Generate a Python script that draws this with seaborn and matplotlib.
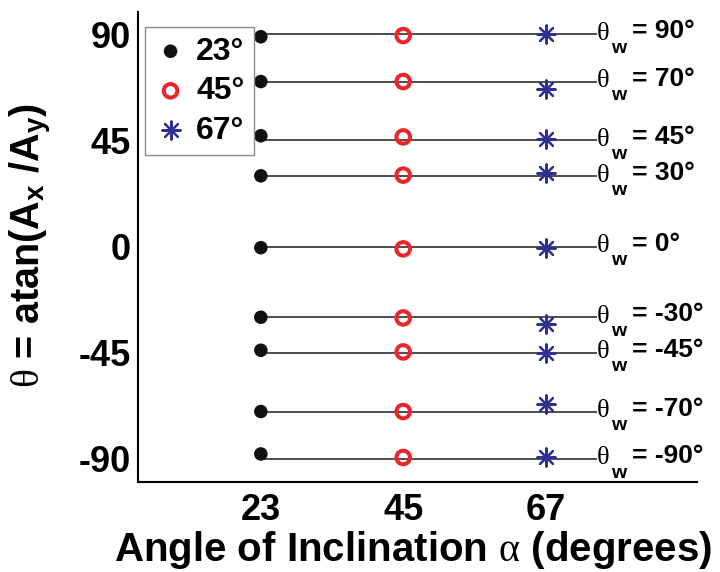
import matplotlib
matplotlib.use("Agg")
import matplotlib.pyplot as plt
import numpy as np
import pandas as pd
import seaborn as sns

# Inclination angles (degrees) and the applied wave polarisation angles
inclinations = [23, 45, 67]
theta_w = [90, 70, 45, 30, 0, -30, -45, -70, -90]

# Measured polarisation angle theta = atan(Ax/Ay) for each inclination
theta_23 = [89.0, 70.0, 47.0, 30.0, -0.5, -30.0, -44.0, -70.0, -88.0]
theta_45 = [89.5, 70.0, 46.5, 30.3, -1.0, -30.3, -44.7, -70.0, -89.5]
theta_67 = [90.0, 66.7, 45.8, 31.2, -0.5, -32.7, -45.0, -66.6, -89.2]

y_ticks = [-90, -45, 0, 45, 90]
line_end = 75

sns.set_style("white")
plt.rcParams["font.family"] = ["Liberation Sans", "DejaVu Sans"]
plt.rcParams["axes.unicode_minus"] = False
for key in ("text.color", "axes.labelcolor", "xtick.color", "ytick.color"):
    plt.rcParams[key] = "black"
plt.rcParams["mathtext.fontset"] = "custom"
plt.rcParams["mathtext.rm"] = "Liberation Serif:weight=normal"
plt.rcParams["mathtext.it"] = "Liberation Serif:italic:weight=normal"
plt.rcParams["mathtext.bf"] = "Liberation Sans:weight=bold"

df = pd.DataFrame({
    "alpha": np.repeat(inclinations, len(theta_w)),
    "theta": theta_23 + theta_45 + theta_67,
    "theta_w": theta_w * len(inclinations),
})

fig = plt.figure(figsize=(7.2, 5.72), dpi=100)
ax = fig.add_axes([137.5 / 720, 1 - 482 / 572, (697 - 137.5) / 720, (482 - 12) / 572])

# Reference lines at each applied angle
ax.hlines(theta_w, inclinations[0], line_end, color="#2f2f2f", lw=1.2, zorder=1)

styles = {
    23: dict(marker="o", s=95, color="#111111", edgecolor="none", linewidth=0),
    45: dict(marker="o", s=95, color="#e8262b", facecolor="none", edgecolor="#e8262b", linewidth=2.9),
    67: dict(marker=(8, 2, 0), s=170, color="#2e3192", linewidth=1.6),
}
for a in inclinations:
    sub = df[df["alpha"] == a]
    sns.scatterplot(data=sub, x="alpha", y="theta", ax=ax, label=f"{a}°", zorder=3, **styles[a])

# Angle annotations at the end of each line: serif theta, bold subscript w, value
for tw in theta_w:
    common = dict(xy=(line_end, tw), textcoords="offset points", ha="left",
                  va="baseline", annotation_clip=False)
    ax.annotate("θ", xytext=(-0.7, -4.1), fontsize=19, family="Liberation Serif", **common)
    ax.annotate("w", xytext=(10.2, -13.6), fontsize=14, fontweight="bold", **common)
    ax.annotate(f"= {tw}°", xytext=(25.0, -2.9), fontsize=19, fontweight="bold", **common)

ax.set_xlim(3.94, 90.4)
ax.set_ylim(-99.9, 99.5)
ax.set_xticks(inclinations)
ax.set_yticks(y_ticks)
ax.tick_params(direction="in", length=5, width=1.5, labelsize=26, pad=5, colors="black")
ax.tick_params(axis="x", pad=8)
for lab in ax.get_xticklabels() + ax.get_yticklabels():
    lab.set_fontweight("bold")

sns.despine(ax=ax)
for side in ("left", "bottom"):
    ax.spines[side].set_linewidth(1.5)
    ax.spines[side].set_color("black")

ax.set_xlabel(r"Angle of Inclination $\mathrm{\alpha}$ (degrees)", fontsize=29, fontweight="bold")
ax.set_ylabel(r"$\mathrm{\theta}$ = atan(A$_{\mathbf{x}}$ /A$_{\mathbf{y}}$)", fontsize=28.5, fontweight="bold")
ax.xaxis.set_label_coords(0.492, -0.10)
ax.yaxis.set_label_coords(-0.150, 0.503)

leg = ax.legend(loc="upper left", bbox_to_anchor=(0.0134, 0.968), borderaxespad=0,
                fontsize=23, frameon=True, fancybox=False, framealpha=1, handlelength=1.0,
                handletextpad=0.3, labelspacing=0.3, borderpad=0.3)
leg.get_frame().set_edgecolor("#8a8a8a")
leg.get_frame().set_linewidth(1.0)
for t in leg.get_texts():
    t.set_fontweight("bold")

fig.savefig("out.png", dpi=100)
